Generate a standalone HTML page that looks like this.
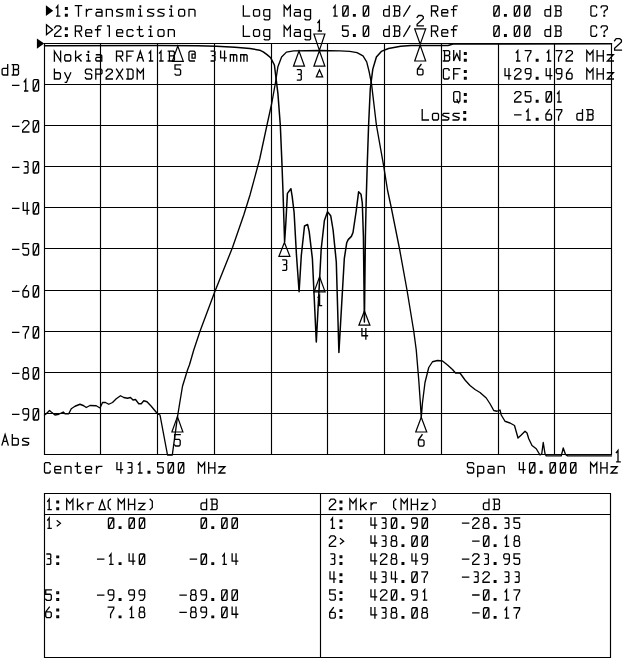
<!DOCTYPE html>
<html><head><meta charset="utf-8"><title>Nokia RFA11B filter plot</title>
<style>
html,body{margin:0;padding:0;background:#fff;font-family:"Liberation Sans",sans-serif;}
svg{display:block}
</style></head><body>
<svg width="640" height="659" viewBox="0 0 640 659">
<rect width="640" height="659" fill="#fff"/>
<path d="M44.5 43.5V454.5M100.5 43.5V454.5M157.5 43.5V454.5M214.5 43.5V454.5M271.5 43.5V454.5M327.5 43.5V454.5M384.5 43.5V454.5M441.5 43.5V454.5M498.5 43.5V454.5M554.5 43.5V454.5M611.5 43.5V454.5M44.5 43.5H611.5M44.5 84.5H611.5M44.5 125.5H611.5M44.5 166.5H611.5M44.5 207.5H611.5M44.5 248.5H611.5M44.5 290.5H611.5M44.5 331.5H611.5M44.5 372.5H611.5M44.5 413.5H611.5M44.5 454.5H611.5" fill="none" stroke="#000" stroke-width="1.15" stroke-linecap="square"/>
<path d="M44.5 493.5H610.5V657.5H44.5ZM44.5 514.5H610.5M320.5 493.5V657.5" fill="none" stroke="#000" stroke-width="1.15" stroke-linecap="square"/>
<path d="M44.5 415L46.25 413.75L49.5 410.5L51.25 412L55 415L58.75 414.25L63.25 412L65 413.75L68.75 413.75L71.25 408.75L75 406.25L80 404.25L83.75 405.75L86.25 407.5L90 405.5L96.25 405.75L100 408L102.5 402.5L105.5 402.5L108.75 404.25L112.5 402.5L116.25 398.75L120.5 395.75L123.75 397.5L127.5 398.25L130.5 397.5L133 400L135.5 399.5L138.75 403.75L141.25 403.75L143.75 400.75L147 401.75L151.25 406.25L157.5 413.75L160 415L167.5 455L172.3 455L177.4 417.5L179.8 402.5L182.5 386.25L187.5 370L189.5 364.75L193.75 350L200 331.25L214.5 292.5L232.5 247.5L243.75 215L250 195L259.7 159L267 125L271.8 103L275.5 82.5L277.9 66.7L281.6 57L286.4 52.1L293.7 50.9L319.5 50.5L340 50.9L349.7 51.4L357 52.6L363 55.8L366.7 61.8L369.1 71.5L371.5 83.7L376.4 125L383.7 166.2L387.5 190L391.25 207.5L399.5 248.75L407 290L413.75 331.25L416.25 350L418.75 380L420.5 405L421.25 417.5L422.5 402.5L425 382.5L428.75 367.5L432.5 361.75L437.5 360.5L442.5 361L447.5 365L452.5 369.5L455.5 373L460 373L465 380L470 385.5L475 389.5L480 392.5L486.25 398L490 403.75L493.75 410.5L497 411.25L500 410L501.25 415L505 421.25L510 423L514.5 425.5L518 438L521.25 435L525 431.25L527 433L528.75 438.75L532 445.5L536.25 448.75L540 455L541.75 453.75L543.25 442.5L545 453.75L546.25 455.9L561.25 455.9L563.25 448L565.5 454.5L567.5 455.9L611.5 455.9" fill="none" stroke="#000" stroke-width="1.35" stroke-linejoin="round" stroke-linecap="round"/>
<path d="M44.5 45.7L160 45.6L197.5 45.8L216.3 46.3L235 47.3L250 48.5L259.7 50.2L263.2 51.9L267 54.6L270.7 57.8L274.4 65L275.5 74L277.9 93.4L280.3 125L281.8 160L283 191.8L284.6 242L285.8 223.7L287.4 193.4L290.9 188.7L292.2 196.6L294.1 212.5L296.5 255.5L299.1 291.8L301.3 255.5L304.5 226L307.6 224.5L309.2 231.7L312.4 258.7L316.3 342L321.2 249L324.4 220.5L327.5 211.75L330.7 215.7L333.1 230L336.3 262L338.9 352.4L344.3 258.7L346.7 242.8L348.2 239.6L351.4 236.4L353 232.5L356.2 211L358.6 191.8L361 194.2L362.3 203L363.4 236.4L364.4 322L365.4 236.4L366.2 200L367.2 166.2L368.6 125L370.3 88.5L372.8 69.1L376.4 57L381.3 51.4L388.5 48.5L400.7 46.2L411 45.6L448 45.5L453 44L611.5 43.8" fill="none" stroke="#000" stroke-width="1.5" stroke-linejoin="round" stroke-linecap="round"/>
<path d="M319.4 50.4L313.9 34H324.9ZM313.4 34H325.4M319.4 50.7L313.9 66.2H324.9ZM313.4 66.2H325.4M299 51L293.5 66.2H304.5ZM293 66.2H305M177.4 416.6L171.9 432H182.9ZM171.4 432H183.4M421.25 417.3L415.75 432H426.75ZM415.25 432H427.25M319.6 276.7L314.1 291.8H325.1ZM313.6 291.8H325.6M420.2 44.3L414.7 28.9H425.7ZM414.2 28.9H426.2M284.4 242.5L278.9 256.4H289.9ZM278.4 256.4H290.4M364.4 311L358.9 325.2H369.9ZM358.4 325.2H370.4M177.8 46L172.3 61.3H183.3ZM171.8 61.3H183.8M420.2 45.3L414.7 61H425.7ZM414.2 61H426.2" fill="none" stroke="#000" stroke-width="1.2" stroke-linejoin="miter"/>
<path d="M319.4 31L319.4 20.6L317.85 22.68M318.26 31L321.36 31M316.4 76.8L319.5 69.8L322.6 76.8ZM297.45 69.7L300.55 69.7L301.27 70.43L301.27 73.55L300.55 74.38L301.27 75.21L301.27 79.37L300.55 80.1L297.45 80.1M298.59 74.38L300.55 74.38M180.19 434.56L174.61 434.56L174.61 439.36L179.16 439.36L180.19 440.51L180.19 444.86L179.16 446L175.64 446L174.61 444.86M422.08 434.76L418.46 440.02L418.46 445.06L419.49 446.2L423.01 446.2L424.04 445.06L424.04 440.94L423.01 439.79L418.67 439.79M319.6 305.7L319.6 295.3L318.05 297.38M318.46 305.7L321.56 305.7M417.1 17.37L418.55 15.5L421.85 15.5L423.3 16.75L423.3 18.41L417.1 24.24L417.1 25.9L423.3 25.9M282.85 259.9L285.95 259.9L286.67 260.63L286.67 263.75L285.95 264.58L286.67 265.41L286.67 269.57L285.95 270.3L282.85 270.3M283.99 264.58L285.95 264.58M361.92 328.7L361.92 335.77L367.5 335.77M365.85 328.7L365.85 339.1M180.59 64.8L175.01 64.8L175.01 69.17L179.56 69.17L180.59 70.21L180.59 74.16L179.56 75.2L176.04 75.2L175.01 74.16M421.03 64.5L417.41 69.28L417.41 73.86L418.44 74.9L421.96 74.9L422.99 73.86L422.99 70.12L421.96 69.08L417.62 69.08M57.8 16.1L57.8 5.7L56.25 7.78M56.66 16.1L59.76 16.1M65.49 16.1L67.2 16.1L67.2 14.49L65.49 14.49L65.49 16.1M65.49 9.34L67.2 9.34L67.2 7.73L65.49 7.73L65.49 9.34M75.36 5.7L81.56 5.7M78.46 5.7L78.46 16.1M86.41 16.1L86.41 9.44M86.41 11.94L88.38 9.44L91.68 9.44M96.64 9.44L100.98 9.44L102.01 10.48L102.01 16.1M102.01 12.25L97.05 12.25L96.02 13.19L96.02 15.16L96.95 16.1L102.01 16.1M106.35 16.1L106.35 9.44L111.31 9.44L112.34 10.48L112.34 16.1M122.67 9.44L117.71 9.44L116.68 10.48L116.68 11.63L122.67 13.92L122.67 15.06L121.64 16.1L116.68 16.1M127.01 16.1L127.01 9.44L132.59 9.44L133.41 10.28L133.41 16.1M130.21 9.44L130.21 16.1M138.68 9.44L140.34 9.44L140.34 16.1M138.79 16.1L141.89 16.1M153.66 9.44L148.7 9.44L147.67 10.48L147.67 11.63L153.66 13.92L153.66 15.06L152.63 16.1L147.67 16.1M163.99 9.44L159.03 9.44L158 10.48L158 11.63L163.99 13.92L163.99 15.06L162.96 16.1L158 16.1M169.67 9.44L171.33 9.44L171.33 16.1M169.78 16.1L172.88 16.1M179.69 16.1L183.62 16.1L184.65 15.06L184.65 10.48L183.62 9.44L179.69 9.44L178.66 10.48L178.66 15.06L179.69 16.1M188.99 16.1L188.99 9.44L193.95 9.44L194.98 10.48L194.98 16.1M54.7 27.77L56.15 25.9L59.45 25.9L60.9 27.15L60.9 28.81L54.7 34.64L54.7 36.3L60.9 36.3M65.49 36.3L67.2 36.3L67.2 34.69L65.49 34.69L65.49 36.3M65.49 29.54L67.2 29.54L67.2 27.93L65.49 27.93L65.49 29.54M75.36 36.3L75.36 25.9L80.53 25.9L81.56 26.94L81.56 30.06L80.53 31.1L75.36 31.1M78.46 31.1L81.56 36.3M85.69 32.87L91.68 32.87L91.68 30.68L90.65 29.64L86.72 29.64L85.69 30.68L85.69 35.26L86.72 36.3L91.37 36.3M97.57 36.3L97.57 26.94L98.6 25.9L101.19 25.9M95.5 29.75L100.15 29.75M107.59 25.9L109.35 25.9L109.35 36.3M116.68 32.87L122.67 32.87L122.67 30.68L121.64 29.64L117.71 29.64L116.68 30.68L116.68 35.26L117.71 36.3L122.36 36.3M133 30.68L131.97 29.64L128.04 29.64L127.01 30.68L127.01 35.26L128.04 36.3L131.97 36.3L133 35.26M139.41 26.32L139.41 35.26L140.44 36.3L142.5 36.3L143.12 35.68M137.34 29.64L142.09 29.64M149.01 29.64L150.67 29.64L150.67 36.3M149.12 36.3L152.22 36.3M159.03 36.3L162.96 36.3L163.99 35.26L163.99 30.68L162.96 29.64L159.03 29.64L158 30.68L158 35.26L159.03 36.3M168.33 36.3L168.33 29.64L173.29 29.64L174.32 30.68L174.32 36.3M243.35 5.8L243.35 16.2L249.55 16.2M254.58 16.2L258.51 16.2L259.54 15.16L259.54 10.58L258.51 9.54L254.58 9.54L253.55 10.58L253.55 15.16L254.58 16.2M269.74 9.54L269.74 18.8L268.71 19.84L264.99 19.84L264.27 19.22M269.74 16.2L264.78 16.2L263.75 15.16L263.75 10.58L264.78 9.54L269.74 9.54M284.15 16.2L284.15 5.8L287.25 9.96L290.35 5.8L290.35 16.2M294.97 9.54L299.31 9.54L300.34 10.58L300.34 16.2M300.34 12.35L295.38 12.35L294.35 13.29L294.35 15.26L295.28 16.2L300.34 16.2M310.54 9.54L310.54 18.8L309.51 19.84L305.79 19.84L305.07 19.22M310.54 16.2L305.58 16.2L304.55 15.16L304.55 10.58L305.58 9.54L310.54 9.54M243.35 25.9L243.35 36.3L249.55 36.3M254.58 36.3L258.51 36.3L259.54 35.26L259.54 30.68L258.51 29.64L254.58 29.64L253.55 30.68L253.55 35.26L254.58 36.3M269.74 29.64L269.74 38.9L268.71 39.94L264.99 39.94L264.27 39.32M269.74 36.3L264.78 36.3L263.75 35.26L263.75 30.68L264.78 29.64L269.74 29.64M284.15 36.3L284.15 25.9L287.25 30.06L290.35 25.9L290.35 36.3M294.97 29.64L299.31 29.64L300.34 30.68L300.34 36.3M300.34 32.45L295.38 32.45L294.35 33.39L294.35 35.36L295.28 36.3L300.34 36.3M310.54 29.64L310.54 38.9L309.51 39.94L305.79 39.94L305.07 39.32M310.54 36.3L305.58 36.3L304.55 35.26L304.55 30.68L305.58 29.64L310.54 29.64M335.1 16.2L335.1 5.8L333.55 7.88M333.96 16.2L337.06 16.2M343.7 16.2L347.21 16.2L348.14 15.26L348.14 6.74L347.21 5.8L343.7 5.8L342.77 6.74L342.77 15.26L343.7 16.2M342.97 15.89L347.93 6.11M353.53 16.2L355.19 16.2L355.19 14.64L353.53 14.64L353.53 16.2M364.2 16.2L367.71 16.2L368.64 15.26L368.64 6.74L367.71 5.8L364.2 5.8L363.27 6.74L363.27 15.26L364.2 16.2M363.47 15.89L368.43 6.11M389.24 5.8L389.24 16.2M389.24 16.2L384.7 16.2L383.66 15.16L383.66 10.58L384.7 9.54L389.24 9.54M394.64 16.2L394.64 5.8M393.5 5.8L398.67 5.8L399.7 6.84L399.7 9.65L398.67 10.69L394.64 10.69M398.67 10.69L399.7 11.73L399.7 15.16L398.67 16.2L393.5 16.2M403.75 16.2L409.95 5.8M348.14 25.9L342.56 25.9L342.56 30.27L347.11 30.27L348.14 31.31L348.14 35.26L347.11 36.3L343.59 36.3L342.56 35.26M353.53 36.3L355.19 36.3L355.19 34.74L353.53 34.74L353.53 36.3M364.2 36.3L367.71 36.3L368.64 35.36L368.64 26.84L367.71 25.9L364.2 25.9L363.27 26.84L363.27 35.36L364.2 36.3M363.47 35.99L368.43 26.21M389.24 25.9L389.24 36.3M389.24 36.3L384.7 36.3L383.66 35.26L383.66 30.68L384.7 29.64L389.24 29.64M394.64 36.3L394.64 25.9M393.5 25.9L398.67 25.9L399.7 26.94L399.7 29.75L398.67 30.79L394.64 30.79M398.67 30.79L399.7 31.83L399.7 35.26L398.67 36.3L393.5 36.3M403.75 36.3L409.95 25.9M431.5 16.2L431.5 5.8L436.67 5.8L437.7 6.84L437.7 9.96L436.67 11L431.5 11M434.6 11L437.7 16.2M441.75 12.77L447.74 12.77L447.74 10.58L446.71 9.54L442.78 9.54L441.75 10.58L441.75 15.16L442.78 16.2L447.43 16.2M453.55 16.2L453.55 6.84L454.58 5.8L457.17 5.8M451.48 9.65L456.13 9.65M431.5 36.3L431.5 25.9L436.67 25.9L437.7 26.94L437.7 30.06L436.67 31.1L431.5 31.1M434.6 31.1L437.7 36.3M441.75 32.87L447.74 32.87L447.74 30.68L446.71 29.64L442.78 29.64L441.75 30.68L441.75 35.26L442.78 36.3L447.43 36.3M453.55 36.3L453.55 26.94L454.58 25.9L457.17 25.9M451.48 29.75L456.13 29.75M494.75 16.2L498.26 16.2L499.19 15.26L499.19 6.74L498.26 5.8L494.75 5.8L493.82 6.74L493.82 15.26L494.75 16.2M494.02 15.89L498.98 6.11M504.58 16.2L506.24 16.2L506.24 14.64L504.58 14.64L504.58 16.2M515.25 16.2L518.76 16.2L519.69 15.26L519.69 6.74L518.76 5.8L515.25 5.8L514.32 6.74L514.32 15.26L515.25 16.2M514.52 15.89L519.48 6.11M525.5 16.2L529.01 16.2L529.94 15.26L529.94 6.74L529.01 5.8L525.5 5.8L524.57 6.74L524.57 15.26L525.5 16.2M524.77 15.89L529.73 6.11M550.54 5.8L550.54 16.2M550.54 16.2L546 16.2L544.96 15.16L544.96 10.58L546 9.54L550.54 9.54M555.94 16.2L555.94 5.8M554.8 5.8L559.96 5.8L561 6.84L561 9.65L559.96 10.69L555.94 10.69M559.96 10.69L561 11.73L561 15.16L559.96 16.2L554.8 16.2M494.75 36.3L498.26 36.3L499.19 35.36L499.19 26.84L498.26 25.9L494.75 25.9L493.82 26.84L493.82 35.36L494.75 36.3M494.02 35.99L498.98 26.21M504.58 36.3L506.24 36.3L506.24 34.74L504.58 34.74L504.58 36.3M515.25 36.3L518.76 36.3L519.69 35.36L519.69 26.84L518.76 25.9L515.25 25.9L514.32 26.84L514.32 35.36L515.25 36.3M514.52 35.99L519.48 26.21M525.5 36.3L529.01 36.3L529.94 35.36L529.94 26.84L529.01 25.9L525.5 25.9L524.57 26.84L524.57 35.36L525.5 36.3M524.77 35.99L529.73 26.21M550.54 25.9L550.54 36.3M550.54 36.3L546 36.3L544.96 35.26L544.96 30.68L546 29.64L550.54 29.64M555.94 36.3L555.94 25.9M554.8 25.9L559.96 25.9L561 26.94L561 29.75L559.96 30.79L555.94 30.79M559.96 30.79L561 31.83L561 35.26L559.96 36.3L554.8 36.3M596.58 7.67L596.58 6.84L595.55 5.8L591.93 5.8L590.9 6.84L590.9 15.16L591.93 16.2L595.55 16.2L596.58 15.16L596.58 14.33M601.15 7.57L601.15 6.84L602.18 5.8L606.31 5.8L607.35 6.84L607.35 8.92L604.25 11.42L604.25 12.87M596.58 27.77L596.58 26.94L595.55 25.9L591.93 25.9L590.9 26.94L590.9 35.26L591.93 36.3L595.55 36.3L596.58 35.26L596.58 34.43M601.15 27.67L601.15 26.94L602.18 25.9L606.31 25.9L607.35 26.94L607.35 29.02L604.25 31.52L604.25 32.97M46.5 24.8L52.6 29.7L46.5 34.6ZM614.6 40.72L616.19 38.66L619.83 38.66L621.42 40.03L621.42 41.86L614.6 48.27L614.6 50.1L621.42 50.1M618.01 461.8L618.01 450.36L616.3 452.65M616.76 461.8L620.17 461.8M54.4 61L54.4 51.22L60.6 61L60.6 51.22M65.78 61L69.71 61L70.74 60.02L70.74 55.72L69.71 54.74L65.78 54.74L64.75 55.72L64.75 60.02L65.78 61M75.62 61L75.62 51.22M81.09 54.74L75.62 58.46M77.68 56.99L81.09 61M86.79 54.74L88.45 54.74L88.45 61M86.9 61L90 61M96.42 54.74L100.76 54.74L101.79 55.72L101.79 61M101.79 57.38L96.83 57.38L95.8 58.26L95.8 60.12L96.73 61L101.79 61M116.5 61L116.5 51.22L121.66 51.22L122.7 52.2L122.7 55.13L121.66 56.11L116.5 56.11M119.6 56.11L122.7 61M133.05 51.22L126.85 51.22L126.85 61M126.85 56.11L130.98 56.11M137.2 61L140.3 51.22L143.4 61M138.28 57.58L142.31 57.58M150.65 61L150.65 51.22L149.1 53.18M149.51 61L152.61 61M161 61L161 51.22L159.45 53.18M159.86 61L162.96 61M169.39 61L169.39 51.22M168.25 51.22L173.41 51.22L174.45 52.2L174.45 54.84L173.41 55.82L169.39 55.82M173.41 55.82L174.45 56.8L174.45 60.02L173.41 61L168.25 61M194.32 61L189.98 61L188.95 60.02L188.95 52.2L189.98 51.22L194.11 51.22L195.15 52.2L195.15 58.07L192.05 58.07L192.05 54.16L195.15 54.16M211.2 51.22L214.3 51.22L215.02 51.91L215.02 54.84L214.3 55.62L215.02 56.41L215.02 60.32L214.3 61L211.2 61M212.34 55.62L214.3 55.62M220.62 51.22L220.62 57.87L226.2 57.87M224.55 51.22L224.55 61M230.35 61L230.35 54.74L235.93 54.74L236.75 55.53L236.75 61M233.55 54.74L233.55 61M240.7 61L240.7 54.74L246.28 54.74L247.1 55.53L247.1 61M243.9 54.74L243.9 61M54.4 69.22L54.4 79M54.4 72.74L59.36 72.74L60.39 73.72L60.39 78.02L59.36 79L54.4 79M64.75 72.74L67.75 79M70.74 72.74L66.51 82.42L65.27 82.42M91.65 70.69L91.65 70.2L90.61 69.22L86.48 69.22L85.45 70.2L85.45 72.84L86.48 73.82L90.61 73.82L91.65 74.8L91.65 78.02L90.61 79L86.48 79L85.45 78.02L85.45 77.53M95.8 79L95.8 69.22L100.97 69.22L102 70.2L102 73.13L100.97 74.11L95.8 74.11M106.15 70.98L107.6 69.22L110.9 69.22L112.35 70.4L112.35 71.96L106.15 77.44L106.15 79L112.35 79M116.5 79L122.7 69.22M116.5 69.22L122.7 79M127.99 79L127.99 69.22M126.85 69.22L131.6 69.22L133.05 70.59L133.05 77.63L131.6 79L126.85 79M137.2 79L137.2 69.22L140.3 73.13L143.4 69.22L143.4 79M444.54 61L444.54 50.6M443.4 50.6L448.56 50.6L449.6 51.64L449.6 54.45L448.56 55.49L444.54 55.49M448.56 55.49L449.6 56.53L449.6 59.96L448.56 61L443.4 61M453.7 50.6L453.7 61L456.8 53.72L459.9 61L459.9 50.6M464.46 61L466.17 61L466.17 59.39L464.46 59.39L464.46 61M464.46 54.24L466.17 54.24L466.17 52.63L464.46 52.63L464.46 54.24M449.08 70.47L449.08 69.64L448.05 68.6L444.43 68.6L443.4 69.64L443.4 77.96L444.43 79L448.05 79L449.08 77.96L449.08 77.13M459.9 68.6L453.7 68.6L453.7 79M453.7 73.8L457.83 73.8M464.46 79L466.17 79L466.17 77.39L464.46 77.39L464.46 79M464.46 72.24L466.17 72.24L466.17 70.63L464.46 70.63L464.46 72.24M454.73 102L458.87 102L459.9 100.96L459.9 92.64L458.87 91.6L454.73 91.6L453.7 92.64L453.7 100.96L454.73 102M457.01 99.5L458.45 102.83M464.46 102L466.17 102L466.17 100.39L464.46 100.39L464.46 102M464.46 95.24L466.17 95.24L466.17 93.63L464.46 93.63L464.46 95.24M422.2 109.6L422.2 120L428.4 120M433.53 120L437.46 120L438.49 118.96L438.49 114.38L437.46 113.34L433.53 113.34L432.5 114.38L432.5 118.96L433.53 120M448.79 113.34L443.83 113.34L442.8 114.38L442.8 115.53L448.79 117.82L448.79 118.96L447.76 120L442.8 120M459.09 113.34L454.13 113.34L453.1 114.38L453.1 115.53L459.09 117.82L459.09 118.96L458.06 120L453.1 120M463.86 120L465.57 120L465.57 118.39L463.86 118.39L463.86 120M463.86 113.24L465.57 113.24L465.57 111.63L463.86 111.63L463.86 113.24M517.8 61L517.8 50.6L516.25 52.68M516.66 61L519.76 61M525.31 50.6L530.89 50.6L530.89 52.06L527.69 57.67L527.69 61M536.33 61L537.99 61L537.99 59.44L536.33 59.44L536.33 61M548.7 61L548.7 50.6L547.15 52.68M547.56 61L550.66 61M556.21 50.6L561.79 50.6L561.79 52.06L558.59 57.67L558.59 61M566.2 52.47L567.65 50.6L570.95 50.6L572.4 51.85L572.4 53.51L566.2 59.34L566.2 61L572.4 61M586.8 61L586.8 50.6L589.9 54.76L593 50.6L593 61M597.1 61L597.1 50.6M603.3 61L603.3 50.6M597.1 55.8L603.3 55.8M607.4 54.76L613.39 54.76L607.4 61L613.39 61M505.02 68.6L505.02 75.67L510.6 75.67M508.95 68.6L508.95 79M514.7 70.47L516.15 68.6L519.45 68.6L520.9 69.85L520.9 71.51L514.7 77.34L514.7 79L520.9 79M530.89 73.59L526.34 73.59L525.31 72.55L525.31 69.64L526.34 68.6L529.86 68.6L530.89 69.64L530.89 76.3L529.03 79L526.45 79M536.33 79L537.99 79L537.99 77.44L536.33 77.44L536.33 79M546.22 68.6L546.22 75.67L551.8 75.67M550.15 68.6L550.15 79M561.79 73.59L557.24 73.59L556.21 72.55L556.21 69.64L557.24 68.6L560.76 68.6L561.79 69.64L561.79 76.3L559.93 79L557.35 79M570.13 68.6L566.51 73.38L566.51 77.96L567.54 79L571.06 79L572.09 77.96L572.09 74.22L571.06 73.18L566.72 73.18M586.8 79L586.8 68.6L589.9 72.76L593 68.6L593 79M597.1 79L597.1 68.6M603.3 79L603.3 68.6M597.1 73.8L603.3 73.8M607.4 72.76L613.39 72.76L607.4 79L613.39 79M514.7 93.47L516.15 91.6L519.45 91.6L520.9 92.85L520.9 94.51L514.7 100.34L514.7 102L520.9 102M530.89 91.6L525.31 91.6L525.31 95.97L529.86 95.97L530.89 97.01L530.89 100.96L529.86 102L526.34 102L525.31 100.96M536.33 102L537.99 102L537.99 100.44L536.33 100.44L536.33 102M547.05 102L550.56 102L551.49 101.06L551.49 92.54L550.56 91.6L547.05 91.6L546.12 92.54L546.12 101.06L547.05 102M546.32 101.69L551.28 91.91M559 102L559 91.6L557.45 93.68M557.86 102L560.96 102M514.7 114.8L520.9 114.8M528.1 120L528.1 109.6L526.55 111.68M526.96 120L530.06 120M536.33 120L537.99 120L537.99 118.44L536.33 118.44L536.33 120M549.53 109.6L545.91 114.38L545.91 118.96L546.94 120L550.46 120L551.49 118.96L551.49 115.22L550.46 114.18L546.12 114.18M556.21 109.6L561.79 109.6L561.79 111.06L558.59 116.67L558.59 120M582.49 109.6L582.49 120M582.49 120L577.95 120L576.91 118.96L576.91 114.38L577.95 113.34L582.49 113.34M587.94 120L587.94 109.6M586.8 109.6L591.96 109.6L593 110.64L593 113.45L591.96 114.49L587.94 114.49M591.96 114.49L593 115.53L593 118.96L591.96 120L586.8 120M7.69 64.6L7.69 75M7.69 75L3.15 75L2.11 73.96L2.11 69.38L3.15 68.34L7.69 68.34M13.44 75L13.44 64.6M12.3 64.6L17.46 64.6L18.5 65.64L18.5 68.45L17.46 69.49L13.44 69.49M17.46 69.49L18.5 70.53L18.5 73.96L17.46 75L12.3 75M12.6 85.33L18.8 85.33M25.75 91L25.75 79.66L24.2 81.93M24.61 91L27.71 91M34.15 91L37.66 91L38.59 89.98L38.59 80.68L37.66 79.66L34.15 79.66L33.22 80.68L33.22 89.98L34.15 91M33.42 90.66L38.38 80M12.6 126.33L18.8 126.33M22.65 122.7L24.1 120.66L27.4 120.66L28.85 122.02L28.85 123.84L22.65 130.19L22.65 132L28.85 132M34.15 132L37.66 132L38.59 130.98L38.59 121.68L37.66 120.66L34.15 120.66L33.22 121.68L33.22 130.98L34.15 132M33.42 131.66L38.38 121M12.6 167.33L18.8 167.33M24.2 161.66L27.3 161.66L28.02 162.46L28.02 165.86L27.3 166.77L28.02 167.67L28.02 172.21L27.3 173L24.2 173M25.34 166.77L27.3 166.77M34.15 173L37.66 173L38.59 171.98L38.59 162.68L37.66 161.66L34.15 161.66L33.22 162.68L33.22 171.98L34.15 173M33.42 172.66L38.38 162M12.6 208.33L18.8 208.33M23.27 202.66L23.27 210.37L28.85 210.37M27.2 202.66L27.2 214M34.15 214L37.66 214L38.59 212.98L38.59 203.68L37.66 202.66L34.15 202.66L33.22 203.68L33.22 212.98L34.15 214M33.42 213.66L38.38 203M12.6 249.33L18.8 249.33M28.54 243.66L22.96 243.66L22.96 248.43L27.51 248.43L28.54 249.56L28.54 253.87L27.51 255L23.99 255L22.96 253.87M34.15 255L37.66 255L38.59 253.98L38.59 244.68L37.66 243.66L34.15 243.66L33.22 244.68L33.22 253.98L34.15 255M33.42 254.66L38.38 244M12.6 291.33L18.8 291.33M26.58 285.66L22.96 290.88L22.96 295.87L23.99 297L27.51 297L28.54 295.87L28.54 291.79L27.51 290.65L23.17 290.65M34.15 297L37.66 297L38.59 295.98L38.59 286.68L37.66 285.66L34.15 285.66L33.22 286.68L33.22 295.98L34.15 297M33.42 296.66L38.38 286M12.6 332.33L18.8 332.33M22.96 326.66L28.54 326.66L28.54 328.25L25.34 334.37L25.34 338M34.15 338L37.66 338L38.59 336.98L38.59 327.68L37.66 326.66L34.15 326.66L33.22 327.68L33.22 336.98L34.15 338M33.42 337.66L38.38 327M12.6 373.33L18.8 373.33M24.2 372.77L23.37 371.86L23.37 368.8L24.41 367.66L27.09 367.66L28.12 368.8L28.12 371.86L27.3 372.77L24.2 372.77L22.96 374.01L22.96 377.87L23.99 379L27.51 379L28.54 377.87L28.54 374.01L27.3 372.77M34.15 379L37.66 379L38.59 377.98L38.59 368.68L37.66 367.66L34.15 367.66L33.22 368.68L33.22 377.98L34.15 379M33.42 378.66L38.38 368M12.6 414.33L18.8 414.33M28.54 414.11L23.99 414.11L22.96 412.97L22.96 409.8L23.99 408.66L27.51 408.66L28.54 409.8L28.54 417.05L26.68 420L24.1 420M34.15 420L37.66 420L38.59 418.98L38.59 409.68L37.66 408.66L34.15 408.66L33.22 409.68L33.22 418.98L34.15 420M33.42 419.66L38.38 409M2 445L5.1 434.6L8.2 445M3.08 441.36L7.11 441.36M12.3 434.6L12.3 445M12.3 438.34L17.26 438.34L18.29 439.38L18.29 443.96L17.26 445L12.3 445M28.59 438.34L23.63 438.34L22.6 439.38L22.6 440.53L28.59 442.82L28.59 443.96L27.56 445L22.6 445M50.18 464.47L50.18 463.64L49.15 462.6L45.53 462.6L44.5 463.64L44.5 471.96L45.53 473L49.15 473L50.18 471.96L50.18 471.13M54.76 469.57L60.75 469.57L60.75 467.38L59.72 466.34L55.79 466.34L54.76 467.38L54.76 471.96L55.79 473L60.44 473M65.02 473L65.02 466.34L69.98 466.34L71.01 467.38L71.01 473M77.35 463.02L77.35 471.96L78.38 473L80.44 473L81.06 472.38M75.28 466.34L80.03 466.34M85.54 469.57L91.53 469.57L91.53 467.38L90.5 466.34L86.57 466.34L85.54 467.38L85.54 471.96L86.57 473L91.22 473M96.52 473L96.52 466.34M96.52 468.84L98.49 466.34L101.79 466.34M116.94 462.6L116.94 469.67L122.52 469.67M120.87 462.6L120.87 473M128.13 462.6L131.23 462.6L131.95 463.33L131.95 466.45L131.23 467.28L131.95 468.11L131.95 472.27L131.23 473L128.13 473M129.27 467.28L131.23 467.28M139.94 473L139.94 462.6L138.39 464.68M138.8 473L141.9 473M148.13 473L149.79 473L149.79 471.44L148.13 471.44L148.13 473M163.25 462.6L157.67 462.6L157.67 466.97L162.22 466.97L163.25 468.01L163.25 471.96L162.22 473L158.7 473L157.67 471.96M169.07 473L172.58 473L173.51 472.06L173.51 463.54L172.58 462.6L169.07 462.6L168.14 463.54L168.14 472.06L169.07 473M168.34 472.69L173.3 462.91M179.33 473L182.84 473L183.77 472.06L183.77 463.54L182.84 462.6L179.33 462.6L178.4 463.54L178.4 472.06L179.33 473M178.6 472.69L183.56 462.91M198.4 473L198.4 462.6L201.5 466.76L204.6 462.6L204.6 473M208.66 473L208.66 462.6M214.86 473L214.86 462.6M208.66 467.8L214.86 467.8M218.92 466.76L224.91 466.76L218.92 473L224.91 473M473.66 464.16L473.66 463.64L472.63 462.6L468.49 462.6L467.46 463.64L467.46 466.45L468.49 467.49L472.63 467.49L473.66 468.53L473.66 471.96L472.63 473L468.49 473L467.46 471.96L467.46 471.44M477.72 466.34L477.72 476.64M477.72 466.34L482.68 466.34L483.71 467.38L483.71 471.96L482.68 473L477.72 473M488.6 466.34L492.94 466.34L493.97 467.38L493.97 473M493.97 469.15L489.01 469.15L487.98 470.09L487.98 472.06L488.91 473L493.97 473M498.24 473L498.24 466.34L503.2 466.34L504.23 467.38L504.23 473M519.38 462.6L519.38 469.67L524.96 469.67M523.31 462.6L523.31 473M530.47 473L533.98 473L534.91 472.06L534.91 463.54L533.98 462.6L530.47 462.6L529.54 463.54L529.54 472.06L530.47 473M529.74 472.69L534.7 462.91M540.31 473L541.97 473L541.97 471.44L540.31 471.44L540.31 473M550.99 473L554.5 473L555.43 472.06L555.43 463.54L554.5 462.6L550.99 462.6L550.06 463.54L550.06 472.06L550.99 473M550.26 472.69L555.22 462.91M561.25 473L564.76 473L565.69 472.06L565.69 463.54L564.76 462.6L561.25 462.6L560.32 463.54L560.32 472.06L561.25 473M560.52 472.69L565.48 462.91M571.51 473L575.02 473L575.95 472.06L575.95 463.54L575.02 462.6L571.51 462.6L570.58 463.54L570.58 472.06L571.51 473M570.78 472.69L575.74 462.91M590.58 473L590.58 462.6L593.68 466.76L596.78 462.6L596.78 473M600.84 473L600.84 462.6M607.04 473L607.04 462.6M600.84 467.8L607.04 467.8M611.1 466.76L617.09 466.76L611.1 473L617.09 473M49.2 509.6L49.2 499.2L47.65 501.28M48.06 509.6L51.16 509.6M56.86 509.6L58.57 509.6L58.57 507.99L56.86 507.99L56.86 509.6M56.86 502.84L58.57 502.84L58.57 501.23L56.86 501.23L56.86 502.84M66.7 509.6L66.7 499.2L69.8 503.36L72.9 499.2L72.9 509.6M77.52 509.6L77.52 499.2M82.99 502.94L77.52 506.9M79.58 505.34L82.99 509.6M88.02 509.6L88.02 502.94M88.02 505.44L89.99 502.94L93.29 502.94M98.94 509.6L102.15 500.24L105.35 509.6L98.94 509.6M118.2 509.6L118.2 499.2L121.3 503.36L124.4 499.2L124.4 509.6M128.5 509.6L128.5 499.2M134.7 509.6L134.7 499.2M128.5 504.4L134.7 504.4M138.8 503.36L144.79 503.36L138.8 509.6L144.79 509.6M150.13 499.2L152.3 501.28L152.3 507.52L150.13 509.6M206.59 499.2L206.59 509.6M206.59 509.6L202.05 509.6L201.01 508.56L201.01 503.98L202.05 502.94L206.59 502.94M212.04 509.6L212.04 499.2M210.9 499.2L216.06 499.2L217.1 500.24L217.1 503.05L216.06 504.09L212.04 504.09M216.06 504.09L217.1 505.13L217.1 508.56L216.06 509.6L210.9 509.6M110.41 499.2L108.24 501.28L108.24 507.52L110.41 509.6M49.2 528.4L49.2 518L47.65 520.08M48.06 528.4L51.16 528.4M57.23 520.7L60.43 523.3L57.23 525.9M109.35 528.4L112.86 528.4L113.79 527.46L113.79 518.94L112.86 518L109.35 518L108.42 518.94L108.42 527.46L109.35 528.4M108.62 528.09L113.58 518.31M119.23 528.4L120.89 528.4L120.89 526.84L119.23 526.84L119.23 528.4M129.95 528.4L133.46 528.4L134.39 527.46L134.39 518.94L133.46 518L129.95 518L129.02 518.94L129.02 527.46L129.95 528.4M129.22 528.09L134.18 518.31M140.25 528.4L143.76 528.4L144.69 527.46L144.69 518.94L143.76 518L140.25 518L139.32 518.94L139.32 527.46L140.25 528.4M139.52 528.09L144.48 518.31M202.05 528.4L205.56 528.4L206.49 527.46L206.49 518.94L205.56 518L202.05 518L201.12 518.94L201.12 527.46L202.05 528.4M201.32 528.09L206.28 518.31M211.93 528.4L213.59 528.4L213.59 526.84L211.93 526.84L211.93 528.4M222.65 528.4L226.16 528.4L227.09 527.46L227.09 518.94L226.16 518L222.65 518L221.72 518.94L221.72 527.46L222.65 528.4M221.92 528.09L226.88 518.31M232.95 528.4L236.46 528.4L237.39 527.46L237.39 518.94L236.46 518L232.95 518L232.02 518.94L232.02 527.46L232.95 528.4M232.22 528.09L237.18 518.31M46.95 554L50.05 554L50.77 554.73L50.77 557.85L50.05 558.68L50.77 559.51L50.77 563.67L50.05 564.4L46.95 564.4M48.09 558.68L50.05 558.68M56.86 564.4L58.57 564.4L58.57 562.79L56.86 562.79L56.86 564.4M56.86 557.64L58.57 557.64L58.57 556.03L56.86 556.03L56.86 557.64M97.6 559.2L103.8 559.2M111 564.4L111 554L109.45 556.08M109.86 564.4L112.96 564.4M119.23 564.4L120.89 564.4L120.89 562.84L119.23 562.84L119.23 564.4M129.12 554L129.12 561.07L134.7 561.07M133.05 554L133.05 564.4M140.25 564.4L143.76 564.4L144.69 563.46L144.69 554.94L143.76 554L140.25 554L139.32 554.94L139.32 563.46L140.25 564.4M139.52 564.09L144.48 554.31M190.3 559.2L196.5 559.2M202.05 564.4L205.56 564.4L206.49 563.46L206.49 554.94L205.56 554L202.05 554L201.12 554.94L201.12 563.46L202.05 564.4M201.32 564.09L206.28 554.31M211.93 564.4L213.59 564.4L213.59 562.84L211.93 562.84L211.93 564.4M224.3 564.4L224.3 554L222.75 556.08M223.16 564.4L226.26 564.4M232.12 554L232.12 561.07L237.7 561.07M236.05 554L236.05 564.4M51.29 589.9L45.71 589.9L45.71 594.27L50.26 594.27L51.29 595.31L51.29 599.26L50.26 600.3L46.74 600.3L45.71 599.26M56.86 600.3L58.57 600.3L58.57 598.69L56.86 598.69L56.86 600.3M56.86 593.54L58.57 593.54L58.57 591.93L56.86 591.93L56.86 593.54M97.6 595.1L103.8 595.1M113.79 594.89L109.24 594.89L108.21 593.85L108.21 590.94L109.24 589.9L112.76 589.9L113.79 590.94L113.79 597.6L111.93 600.3L109.35 600.3M119.23 600.3L120.89 600.3L120.89 598.74L119.23 598.74L119.23 600.3M134.39 594.89L129.84 594.89L128.81 593.85L128.81 590.94L129.84 589.9L133.36 589.9L134.39 590.94L134.39 597.6L132.53 600.3L129.95 600.3M144.69 594.89L140.14 594.89L139.11 593.85L139.11 590.94L140.14 589.9L143.66 589.9L144.69 590.94L144.69 597.6L142.83 600.3L140.25 600.3M180 595.1L186.2 595.1M191.85 594.58L191.02 593.75L191.02 590.94L192.06 589.9L194.74 589.9L195.77 590.94L195.77 593.75L194.95 594.58L191.85 594.58L190.61 595.72L190.61 599.26L191.64 600.3L195.16 600.3L196.19 599.26L196.19 595.72L194.95 594.58M206.49 594.89L201.94 594.89L200.91 593.85L200.91 590.94L201.94 589.9L205.46 589.9L206.49 590.94L206.49 597.6L204.63 600.3L202.05 600.3M211.93 600.3L213.59 600.3L213.59 598.74L211.93 598.74L211.93 600.3M222.65 600.3L226.16 600.3L227.09 599.36L227.09 590.84L226.16 589.9L222.65 589.9L221.72 590.84L221.72 599.36L222.65 600.3M221.92 599.99L226.88 590.21M232.95 600.3L236.46 600.3L237.39 599.36L237.39 590.84L236.46 589.9L232.95 589.9L232.02 590.84L232.02 599.36L232.95 600.3M232.22 599.99L237.18 590.21M49.33 607.2L45.71 611.98L45.71 616.56L46.74 617.6L50.26 617.6L51.29 616.56L51.29 612.82L50.26 611.78L45.92 611.78M56.86 617.6L58.57 617.6L58.57 615.99L56.86 615.99L56.86 617.6M56.86 610.84L58.57 610.84L58.57 609.23L56.86 609.23L56.86 610.84M108.21 607.2L113.79 607.2L113.79 608.66L110.59 614.27L110.59 617.6M119.23 617.6L120.89 617.6L120.89 616.04L119.23 616.04L119.23 617.6M131.6 617.6L131.6 607.2L130.05 609.28M130.46 617.6L133.56 617.6M140.35 611.88L139.52 611.05L139.52 608.24L140.56 607.2L143.24 607.2L144.27 608.24L144.27 611.05L143.45 611.88L140.35 611.88L139.11 613.02L139.11 616.56L140.14 617.6L143.66 617.6L144.69 616.56L144.69 613.02L143.45 611.88M180 612.4L186.2 612.4M191.85 611.88L191.02 611.05L191.02 608.24L192.06 607.2L194.74 607.2L195.77 608.24L195.77 611.05L194.95 611.88L191.85 611.88L190.61 613.02L190.61 616.56L191.64 617.6L195.16 617.6L196.19 616.56L196.19 613.02L194.95 611.88M206.49 612.19L201.94 612.19L200.91 611.15L200.91 608.24L201.94 607.2L205.46 607.2L206.49 608.24L206.49 614.9L204.63 617.6L202.05 617.6M211.93 617.6L213.59 617.6L213.59 616.04L211.93 616.04L211.93 617.6M222.65 617.6L226.16 617.6L227.09 616.66L227.09 608.14L226.16 607.2L222.65 607.2L221.72 608.14L221.72 616.66L222.65 617.6M221.92 617.29L226.88 607.51M232.12 607.2L232.12 614.27L237.7 614.27M236.05 607.2L236.05 617.6M329.4 501.07L330.85 499.2L334.15 499.2L335.6 500.45L335.6 502.11L329.4 507.94L329.4 509.6L335.6 509.6M340.1 509.6L341.81 509.6L341.81 507.99L340.1 507.99L340.1 509.6M340.1 502.84L341.81 502.84L341.81 501.23L340.1 501.23L340.1 502.84M349.88 509.6L349.88 499.2L352.98 503.36L356.08 499.2L356.08 509.6M360.64 509.6L360.64 499.2M366.11 502.94L360.64 506.9M362.7 505.34L366.11 509.6M371.08 509.6L371.08 502.94M371.08 505.44L373.05 502.94L376.35 502.94M401.08 509.6L401.08 499.2L404.18 503.36L407.28 499.2L407.28 509.6M411.32 509.6L411.32 499.2M417.52 509.6L417.52 499.2M411.32 504.4L417.52 504.4M421.56 503.36L427.55 503.36L421.56 509.6L427.55 509.6M432.83 499.2L435 501.28L435 507.52L432.83 509.6M488.99 499.2L488.99 509.6M488.99 509.6L484.45 509.6L483.41 508.56L483.41 503.98L484.45 502.94L488.99 502.94M494.38 509.6L494.38 499.2M493.24 499.2L498.41 499.2L499.44 500.24L499.44 503.05L498.41 504.09L494.38 504.09M498.41 504.09L499.44 505.13L499.44 508.56L498.41 509.6L493.24 509.6M395.85 499.2L393.68 501.28L393.68 507.52L395.85 509.6M332.5 528.4L332.5 518L330.95 520.08M331.36 528.4L334.46 528.4M340.1 528.4L341.81 528.4L341.81 526.79L340.1 526.79L340.1 528.4M340.1 521.64L341.81 521.64L341.81 520.03L340.1 520.03L340.1 521.64M370.98 518L370.98 525.07L376.56 525.07M374.91 518L374.91 528.4M382.15 518L385.25 518L385.97 518.73L385.97 521.85L385.25 522.68L385.97 523.51L385.97 527.67L385.25 528.4L382.15 528.4M383.29 522.68L385.25 522.68M392.29 528.4L395.8 528.4L396.73 527.46L396.73 518.94L395.8 518L392.29 518L391.36 518.94L391.36 527.46L392.29 528.4M391.56 528.09L396.52 518.31M402.11 528.4L403.77 528.4L403.77 526.84L402.11 526.84L402.11 528.4M417.21 522.99L412.66 522.99L411.63 521.95L411.63 519.04L412.66 518L416.18 518L417.21 519.04L417.21 525.7L415.35 528.4L412.77 528.4M423.01 528.4L426.52 528.4L427.45 527.46L427.45 518.94L426.52 518L423.01 518L422.08 518.94L422.08 527.46L423.01 528.4M422.28 528.09L427.24 518.31M462.52 523.2L468.72 523.2M472.76 519.87L474.21 518L477.51 518L478.96 519.25L478.96 520.91L472.76 526.74L472.76 528.4L478.96 528.4M484.55 522.68L483.72 521.85L483.72 519.04L484.76 518L487.44 518L488.47 519.04L488.47 521.85L487.65 522.68L484.55 522.68L483.31 523.82L483.31 527.36L484.34 528.4L487.86 528.4L488.89 527.36L488.89 523.82L487.65 522.68M494.27 528.4L495.93 528.4L495.93 526.84L494.27 526.84L494.27 528.4M505.03 518L508.13 518L508.85 518.73L508.85 521.85L508.13 522.68L508.85 523.51L508.85 527.67L508.13 528.4L505.03 528.4M506.17 522.68L508.13 522.68M519.61 518L514.03 518L514.03 522.37L518.58 522.37L519.61 523.41L519.61 527.36L518.58 528.4L515.06 528.4L514.03 527.36M329.4 537.82L330.85 535.95L334.15 535.95L335.6 537.2L335.6 538.86L329.4 544.69L329.4 546.35L335.6 546.35M340.47 538.65L343.67 541.25L340.47 543.85M370.98 535.95L370.98 543.02L376.56 543.02M374.91 535.95L374.91 546.35M382.15 535.95L385.25 535.95L385.97 536.68L385.97 539.8L385.25 540.63L385.97 541.46L385.97 545.62L385.25 546.35L382.15 546.35M383.29 540.63L385.25 540.63M392.39 540.63L391.56 539.8L391.56 536.99L392.6 535.95L395.28 535.95L396.31 536.99L396.31 539.8L395.49 540.63L392.39 540.63L391.15 541.77L391.15 545.31L392.18 546.35L395.7 546.35L396.73 545.31L396.73 541.77L395.49 540.63M402.11 546.35L403.77 546.35L403.77 544.79L402.11 544.79L402.11 546.35M412.77 546.35L416.28 546.35L417.21 545.41L417.21 536.89L416.28 535.95L412.77 535.95L411.84 536.89L411.84 545.41L412.77 546.35M412.04 546.04L417 536.26M423.01 546.35L426.52 546.35L427.45 545.41L427.45 536.89L426.52 535.95L423.01 535.95L422.08 536.89L422.08 545.41L423.01 546.35M422.28 546.04L427.24 536.26M472.76 541.15L478.96 541.15M484.45 546.35L487.96 546.35L488.89 545.41L488.89 536.89L487.96 535.95L484.45 535.95L483.52 536.89L483.52 545.41L484.45 546.35M483.72 546.04L488.68 536.26M494.27 546.35L495.93 546.35L495.93 544.79L494.27 544.79L494.27 546.35M506.58 546.35L506.58 535.95L505.03 538.03M505.44 546.35L508.54 546.35M515.27 540.63L514.44 539.8L514.44 536.99L515.48 535.95L518.16 535.95L519.19 536.99L519.19 539.8L518.37 540.63L515.27 540.63L514.03 541.77L514.03 545.31L515.06 546.35L518.58 546.35L519.61 545.31L519.61 541.77L518.37 540.63M330.95 553.9L334.05 553.9L334.77 554.63L334.77 557.75L334.05 558.58L334.77 559.41L334.77 563.57L334.05 564.3L330.95 564.3M332.09 558.58L334.05 558.58M340.1 564.3L341.81 564.3L341.81 562.69L340.1 562.69L340.1 564.3M340.1 557.54L341.81 557.54L341.81 555.93L340.1 555.93L340.1 557.54M370.98 553.9L370.98 560.97L376.56 560.97M374.91 553.9L374.91 564.3M380.6 555.77L382.05 553.9L385.35 553.9L386.8 555.15L386.8 556.81L380.6 562.64L380.6 564.3L386.8 564.3M392.39 558.58L391.56 557.75L391.56 554.94L392.6 553.9L395.28 553.9L396.31 554.94L396.31 557.75L395.49 558.58L392.39 558.58L391.15 559.72L391.15 563.26L392.18 564.3L395.7 564.3L396.73 563.26L396.73 559.72L395.49 558.58M402.11 564.3L403.77 564.3L403.77 562.74L402.11 562.74L402.11 564.3M411.94 553.9L411.94 560.97L417.52 560.97M415.87 553.9L415.87 564.3M427.45 558.89L422.9 558.89L421.87 557.85L421.87 554.94L422.9 553.9L426.42 553.9L427.45 554.94L427.45 561.6L425.59 564.3L423.01 564.3M462.52 559.1L468.72 559.1M472.76 555.77L474.21 553.9L477.51 553.9L478.96 555.15L478.96 556.81L472.76 562.64L472.76 564.3L478.96 564.3M484.55 553.9L487.65 553.9L488.37 554.63L488.37 557.75L487.65 558.58L488.37 559.41L488.37 563.57L487.65 564.3L484.55 564.3M485.69 558.58L487.65 558.58M494.27 564.3L495.93 564.3L495.93 562.74L494.27 562.74L494.27 564.3M509.37 558.89L504.82 558.89L503.79 557.85L503.79 554.94L504.82 553.9L508.34 553.9L509.37 554.94L509.37 561.6L507.51 564.3L504.93 564.3M519.61 553.9L514.03 553.9L514.03 558.27L518.58 558.27L519.61 559.31L519.61 563.26L518.58 564.3L515.06 564.3L514.03 563.26M330.02 571.85L330.02 578.92L335.6 578.92M333.95 571.85L333.95 582.25M340.1 582.25L341.81 582.25L341.81 580.64L340.1 580.64L340.1 582.25M340.1 575.49L341.81 575.49L341.81 573.88L340.1 573.88L340.1 575.49M370.98 571.85L370.98 578.92L376.56 578.92M374.91 571.85L374.91 582.25M382.15 571.85L385.25 571.85L385.97 572.58L385.97 575.7L385.25 576.53L385.97 577.36L385.97 581.52L385.25 582.25L382.15 582.25M383.29 576.53L385.25 576.53M391.46 571.85L391.46 578.92L397.04 578.92M395.39 571.85L395.39 582.25M402.11 582.25L403.77 582.25L403.77 580.69L402.11 580.69L402.11 582.25M412.77 582.25L416.28 582.25L417.21 581.31L417.21 572.79L416.28 571.85L412.77 571.85L411.84 572.79L411.84 581.31L412.77 582.25M412.04 581.94L417 572.16M421.87 571.85L427.45 571.85L427.45 573.31L424.25 578.92L424.25 582.25M462.52 577.05L468.72 577.05M474.31 571.85L477.41 571.85L478.13 572.58L478.13 575.7L477.41 576.53L478.13 577.36L478.13 581.52L477.41 582.25L474.31 582.25M475.45 576.53L477.41 576.53M483 573.72L484.45 571.85L487.75 571.85L489.2 573.1L489.2 574.76L483 580.59L483 582.25L489.2 582.25M494.27 582.25L495.93 582.25L495.93 580.69L494.27 580.69L494.27 582.25M505.03 571.85L508.13 571.85L508.85 572.58L508.85 575.7L508.13 576.53L508.85 577.36L508.85 581.52L508.13 582.25L505.03 582.25M506.17 576.53L508.13 576.53M515.27 571.85L518.37 571.85L519.09 572.58L519.09 575.7L518.37 576.53L519.09 577.36L519.09 581.52L518.37 582.25L515.27 582.25M516.41 576.53L518.37 576.53M335.29 589.8L329.71 589.8L329.71 594.17L334.26 594.17L335.29 595.21L335.29 599.16L334.26 600.2L330.74 600.2L329.71 599.16M340.1 600.2L341.81 600.2L341.81 598.59L340.1 598.59L340.1 600.2M340.1 593.44L341.81 593.44L341.81 591.83L340.1 591.83L340.1 593.44M370.98 589.8L370.98 596.87L376.56 596.87M374.91 589.8L374.91 600.2M380.6 591.67L382.05 589.8L385.35 589.8L386.8 591.05L386.8 592.71L380.6 598.54L380.6 600.2L386.8 600.2M392.29 600.2L395.8 600.2L396.73 599.26L396.73 590.74L395.8 589.8L392.29 589.8L391.36 590.74L391.36 599.26L392.29 600.2M391.56 599.89L396.52 590.11M402.11 600.2L403.77 600.2L403.77 598.64L402.11 598.64L402.11 600.2M417.21 594.79L412.66 594.79L411.63 593.75L411.63 590.84L412.66 589.8L416.18 589.8L417.21 590.84L417.21 597.5L415.35 600.2L412.77 600.2M424.66 600.2L424.66 589.8L423.11 591.88M423.52 600.2L426.62 600.2M472.76 595L478.96 595M484.45 600.2L487.96 600.2L488.89 599.26L488.89 590.74L487.96 589.8L484.45 589.8L483.52 590.74L483.52 599.26L484.45 600.2M483.72 599.89L488.68 590.11M494.27 600.2L495.93 600.2L495.93 598.64L494.27 598.64L494.27 600.2M506.58 600.2L506.58 589.8L505.03 591.88M505.44 600.2L508.54 600.2M514.03 589.8L519.61 589.8L519.61 591.26L516.41 596.87L516.41 600.2M333.33 607.75L329.71 612.53L329.71 617.11L330.74 618.15L334.26 618.15L335.29 617.11L335.29 613.37L334.26 612.33L329.92 612.33M340.1 618.15L341.81 618.15L341.81 616.54L340.1 616.54L340.1 618.15M340.1 611.39L341.81 611.39L341.81 609.78L340.1 609.78L340.1 611.39M370.98 607.75L370.98 614.82L376.56 614.82M374.91 607.75L374.91 618.15M382.15 607.75L385.25 607.75L385.97 608.48L385.97 611.6L385.25 612.43L385.97 613.26L385.97 617.42L385.25 618.15L382.15 618.15M383.29 612.43L385.25 612.43M392.39 612.43L391.56 611.6L391.56 608.79L392.6 607.75L395.28 607.75L396.31 608.79L396.31 611.6L395.49 612.43L392.39 612.43L391.15 613.57L391.15 617.11L392.18 618.15L395.7 618.15L396.73 617.11L396.73 613.57L395.49 612.43M402.11 618.15L403.77 618.15L403.77 616.59L402.11 616.59L402.11 618.15M412.77 618.15L416.28 618.15L417.21 617.21L417.21 608.69L416.28 607.75L412.77 607.75L411.84 608.69L411.84 617.21L412.77 618.15M412.04 617.84L417 608.06M423.11 612.43L422.28 611.6L422.28 608.79L423.32 607.75L426 607.75L427.03 608.79L427.03 611.6L426.21 612.43L423.11 612.43L421.87 613.57L421.87 617.11L422.9 618.15L426.42 618.15L427.45 617.11L427.45 613.57L426.21 612.43M472.76 612.95L478.96 612.95M484.45 618.15L487.96 618.15L488.89 617.21L488.89 608.69L487.96 607.75L484.45 607.75L483.52 608.69L483.52 617.21L484.45 618.15M483.72 617.84L488.68 608.06M494.27 618.15L495.93 618.15L495.93 616.59L494.27 616.59L494.27 618.15M506.58 618.15L506.58 607.75L505.03 609.83M505.44 618.15L508.54 618.15M514.03 607.75L519.61 607.75L519.61 609.21L516.41 614.82L516.41 618.15" fill="none" stroke="#000" stroke-width="1.3" stroke-linecap="square" stroke-linejoin="miter"/>
<path d="M139.41 5.28H141.27V7.47H139.41ZM170.4 5.28H172.26V7.47H170.4ZM149.74 25.48H151.6V27.67H149.74ZM603.22 14.74H605.28V16.82H603.22ZM603.22 34.84H605.28V36.92H603.22ZM45.9 5.2L53.2 10.7L45.9 16.1ZM36.9 38.6L44.2 43.6L36.9 48.7ZM87.52 50.83H89.38V52.89H87.52Z" fill="#000" stroke="none"/>
</svg>
</body></html>
